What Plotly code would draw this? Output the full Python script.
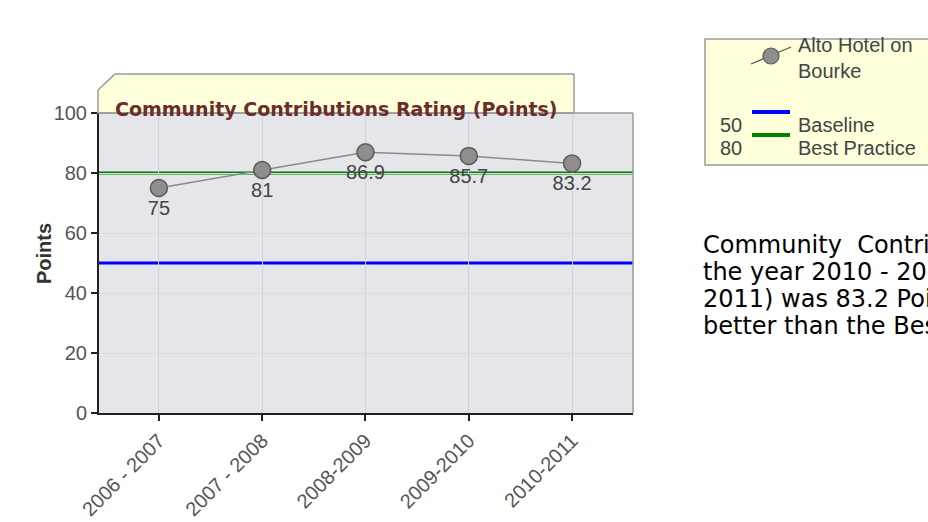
import plotly.graph_objects as go

# données du graphique
periods = ["2006 - 2007", "2007 - 2008", "2008-2009", "2009-2010", "2010-2011"]
ratings = [75, 81, 86.9, 85.7, 83.2]
rating_labels = ["75", "81", "86.9", "85.7", "83.2"]
series_name = "Alto Hotel on Bourke"
baseline_value = 50
best_practice_value = 80
y_ticks = [0, 20, 40, 60, 80, 100]

chart_title = "Community Contributions Rating (Points)"
y_title = "Points"
summary_lines = [
    "Community\u00a0 Contributions\u00a0 Rating\u00a0 for",
    "the year 2010 - 2011 (July 2010 - June",
    "2011) was 83.2 Points, which is 3.2 Points",
    "better than the Best Practice.",
]

# zone de tracé en pixels
L, R, T, B = 99, 633, 113, 413
W, H = 928, 522


def px(x):
    return (x - L) / (R - L)


def py(y):
    return (B - y) / (B - T)


fig = go.Figure()

fig.add_trace(go.Scatter(
    x=periods, y=ratings, mode="lines+markers+text",
    text=rating_labels, textposition="bottom center",
    textfont=dict(family="Liberation Sans, Arial", size=20, color="#444444"),
    line=dict(color="#8a8a8a", width=1.5),
    marker=dict(size=17, color="#8e8e8e", line=dict(color="#5a5a5a", width=1.5)),
    name=series_name, showlegend=False, cliponaxis=False,
))

shapes = []
# lignes de référence
for val, col in [(baseline_value, "#0000ff"), (best_practice_value, "#008000")]:
    shapes.append(dict(type="line", xref="paper", yref="y", x0=0, x1=1, y0=val, y1=val,
                       line=dict(color=col, width=3), layer="below"))

# onglet du titre
tab = (f"M {px(98)},{py(113)} L {px(98)},{py(90)} L {px(115)},{py(74)} "
       f"L {px(574)},{py(74)} L {px(574)},{py(113)} Z")
shapes.append(dict(type="path", xref="paper", yref="paper", path=tab,
                   fillcolor="#ffffdc", line=dict(color="#9a9a9a", width=1.5)))

# boîte de légende
shapes.append(dict(type="rect", xref="paper", yref="paper",
                   x0=px(705), x1=px(960), y0=py(165), y1=py(39),
                   fillcolor="#ffffdc", line=dict(color="#9a9a9a", width=1.5)))
shapes.append(dict(type="line", xref="paper", yref="paper",
                   x0=px(751), x1=px(791), y0=py(64), y1=py(47),
                   line=dict(color="#555555", width=1.2)))
shapes.append(dict(type="circle", xref="paper", yref="paper",
                   x0=px(763), x1=px(779), y0=py(64), y1=py(48),
                   fillcolor="#8e8e8e", line=dict(color="#5a5a5a", width=1.2)))
shapes.append(dict(type="line", xref="paper", yref="paper",
                   x0=px(752), x1=px(790), y0=py(112), y1=py(112),
                   line=dict(color="#0000ff", width=4)))
shapes.append(dict(type="line", xref="paper", yref="paper",
                   x0=px(752), x1=px(790), y0=py(135), y1=py(135),
                   line=dict(color="#008000", width=4)))

leg_font = dict(family="Liberation Sans, Arial", size=20, color="#444444")
annotations = [
    dict(text=f"<b>{chart_title}</b>", x=px(336), y=py(96), xref="paper", yref="paper",
         showarrow=False, font=dict(family="DejaVu Sans", size=19, color="#6b2c2c")),
    dict(text=f"<b>{y_title}</b>", x=px(44), y=py(254), xref="paper", yref="paper",
         xanchor="center", yanchor="middle", textangle=-90, showarrow=False,
         font=dict(family="Liberation Sans, Arial", size=20, color="#333333")),
    dict(text="Alto Hotel on<br>Bourke", x=px(796), y=py(58), xref="paper", yref="paper",
         xanchor="left", yanchor="middle", align="left", showarrow=False, font=leg_font),
    dict(text=f"{baseline_value}", x=px(744), y=py(112), xref="paper", yref="paper",
         xanchor="right", showarrow=False, font=leg_font),
    dict(text="Baseline", x=px(796), y=py(112), xref="paper", yref="paper",
         xanchor="left", showarrow=False, font=leg_font),
    dict(text=f"{best_practice_value}", x=px(744), y=py(135), xref="paper", yref="paper",
         xanchor="right", showarrow=False, font=leg_font),
    dict(text="Best Practice", x=px(796), y=py(135), xref="paper", yref="paper",
         xanchor="left", showarrow=False, font=leg_font),
]
for i, line in enumerate(summary_lines):
    annotations.append(dict(text=line, x=px(701), y=py(245 + 27 * i), xref="paper", yref="paper",
                            xanchor="left", yanchor="middle", showarrow=False,
                            font=dict(family="DejaVu Sans", size=24, color="#000000")))

fig.update_layout(
    width=W, height=H,
    margin=dict(l=L, r=W - R, t=T, b=H - B),
    paper_bgcolor="white", plot_bgcolor="#e5e6e9",
    showlegend=False,
    shapes=shapes, annotations=annotations,
    font=dict(family="Liberation Sans, Arial", color="#555555"),
)
fig.update_xaxes(
    range=[-0.58, 4.59], tickangle=-45, tickfont=dict(size=20, color="#555555"),
    showgrid=True, gridcolor="#d2d3d6", gridwidth=1, automargin=False,
    showline=True, linecolor="#222222", linewidth=2, mirror=False,
    ticks="outside", ticklen=6, tickcolor="#222222", tickwidth=2,
)
fig.update_yaxes(
    range=[0, 100], tickvals=y_ticks, tickfont=dict(size=20, color="#555555"),
    showgrid=True, gridcolor="#dcdde0", gridwidth=1, automargin=False,
    showline=True, linecolor="#222222", linewidth=2,
    ticks="outside", ticklen=6, tickcolor="#222222", tickwidth=2,
    zeroline=False,
)
# bordure haut/droite de la zone de tracé
fig.add_shape(type="line", xref="paper", yref="paper", x0=0, x1=1, y0=1, y1=1,
              line=dict(color="#9a9a9a", width=1.5))
fig.add_shape(type="line", xref="paper", yref="paper", x0=1, x1=1, y0=0, y1=1,
              line=dict(color="#9a9a9a", width=1.5))

# la page a une marge de 8px par défaut : on la retire pour garder la taille 928x522
fig.write_html("out.html", config={"displayModeBar": False},
               post_script="document.body.style.margin='0';")
